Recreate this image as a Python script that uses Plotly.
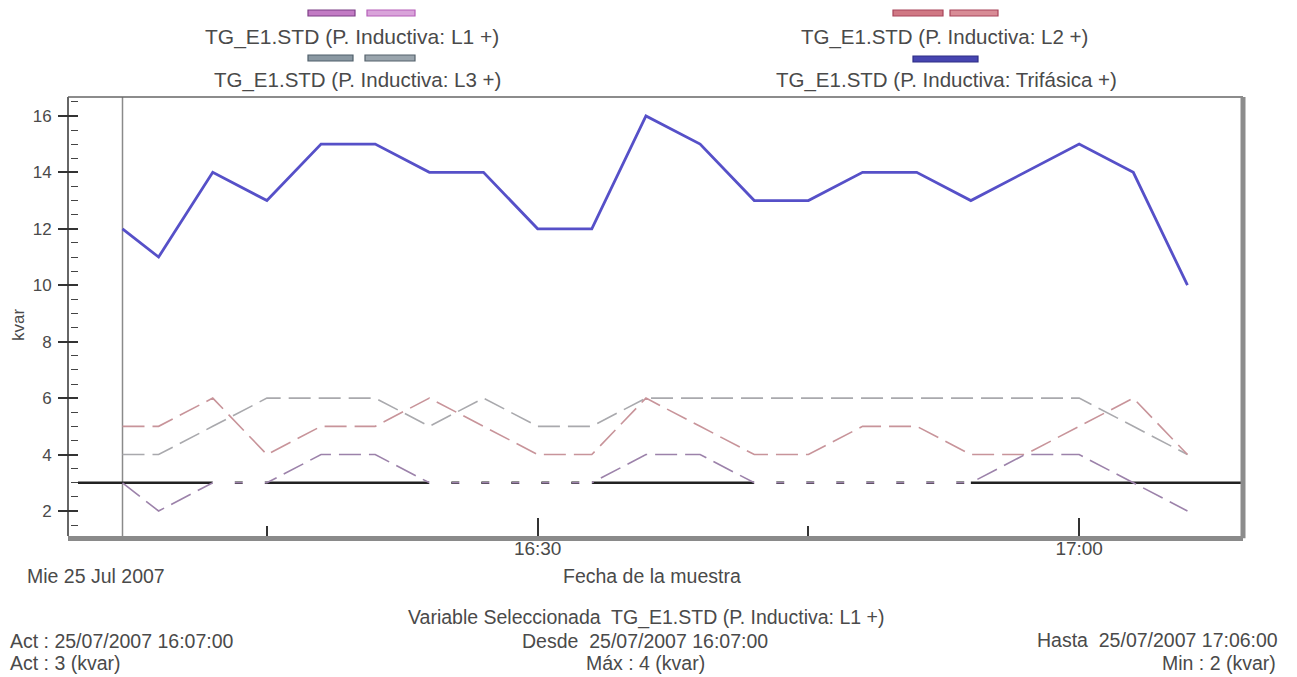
import pandas as pd
import plotly.graph_objects as go

# ---- data: reactive inductive power per phase and three-phase total (kvar) ----
DAY = "2007-07-25"
TIMES = ["16:07", "16:09", "16:12", "16:15", "16:18", "16:21", "16:24", "16:27",
         "16:30", "16:33", "16:36", "16:39", "16:42", "16:45", "16:48", "16:51",
         "16:54", "16:57", "17:00", "17:03", "17:06"]
L1 = [3, 2, 3, 3, 4, 4, 3, 3, 3, 3, 4, 4, 3, 3, 3, 3, 3, 4, 4, 3, 2]
L2 = [5, 5, 6, 4, 5, 5, 6, 5, 4, 4, 6, 5, 4, 4, 5, 5, 4, 4, 5, 6, 4]
L3 = [4, 4, 5, 6, 6, 6, 5, 6, 5, 5, 6, 6, 6, 6, 6, 6, 6, 6, 6, 5, 4]
TRIFASICA = [12, 11, 14, 13, 15, 15, 14, 14, 12, 12, 16, 15, 13, 13, 14, 14, 13, 14, 15, 14, 10]

NAMES = {
    "L1": "TG_E1.STD (P. Inductiva: L1 +)",
    "L2": "TG_E1.STD (P. Inductiva: L2 +)",
    "L3": "TG_E1.STD (P. Inductiva: L3 +)",
    "TRI": "TG_E1.STD (P. Inductiva: Trifásica +)",
}
Y_TICKS = [2, 4, 6, 8, 10, 12, 14, 16]

x = pd.to_datetime([f"{DAY} {t}" for t in TIMES])
t_first, t_last = x[0], x[-1]
act_value = L1[0]

# ---- geometry helpers (pixels -> paper coordinates) ----
W, H = 1297, 677
PL, PR, PT, PB = 68, 1243, 97, 536


def px(v):
    return (v - PL) / (PR - PL)


def py(v):
    return (PB - v) / (PB - PT)


FONT = "Liberation Sans, Arial, sans-serif"
TXT = "#4a4a4a"
DASH = "22px,8px"

fig = go.Figure()

fig.add_trace(go.Scatter(x=x, y=L3, mode="lines", name=NAMES["L3"],
                         line=dict(color="#a9a9ad", width=1.6, dash=DASH)))
fig.add_trace(go.Scatter(x=x, y=L2, mode="lines", name=NAMES["L2"],
                         line=dict(color="#c8949a", width=1.6, dash=DASH)))
fig.add_trace(go.Scatter(x=x, y=L1, mode="lines", name=NAMES["L1"],
                         line=dict(color="#9c82aa", width=1.6, dash=DASH)))
fig.add_trace(go.Scatter(x=x, y=TRIFASICA, mode="lines", name=NAMES["TRI"],
                         line=dict(color="#5650c8", width=2.8)))

# where L1 runs flat along the cursor value, its dashes knock out the cursor line
seg_x, seg_y = [], []
i = 0
n = len(L1)
while i < n - 1:
    if L1[i] == act_value and L1[i + 1] == act_value:
        j = i + 1
        while j + 1 < n and L1[j + 1] == act_value:
            j += 1
        seg_x += [x[i], x[j], None]
        seg_y += [L1[i], L1[j], None]
        i = j
    else:
        i += 1
fig.add_trace(go.Scatter(x=seg_x, y=seg_y, mode="lines", hoverinfo="skip",
                         line=dict(color="white", width=4, dash=DASH)))

shapes = [
    # cursor lines (time of the current sample, current value)
    dict(type="line", xref="x", yref="y domain", x0=t_first, x1=t_first, y0=0, y1=1,
         line=dict(color="#8a8a8a", width=1.5), layer="below"),
    dict(type="line", xref="x domain", yref="y", x0=px(78), x1=1, y0=act_value, y1=act_value,
         line=dict(color="#222222", width=2.6), layer="below"),
    # frame: left axis line, top edge, heavy right edge
    dict(type="line", xref="paper", yref="paper", x0=0, x1=0, y0=0, y1=1,
         line=dict(color="#333333", width=1.5)),
    dict(type="line", xref="paper", yref="paper", x0=0, x1=1, y0=1, y1=1,
         line=dict(color="#666666", width=1.5)),
    dict(type="line", xref="paper", yref="paper", x0=1, x1=1, y0=-0.005, y1=1,
         line=dict(color="#8c8c8c", width=5)),
]

# legend swatches + labels
legend_items = [
    ("L1", 352, 37, 21, [(308, 355, "#7d3f86", "#c27bc4"), (367, 415, "#b55fb8", "#d9a3da")], 13),
    ("L3", 357, 80, 20.5, [(308, 353, "#4f5f6a", "#8a98a2"), (365, 415, "#55626c", "#9aa5ad")], 58),
    ("L2", 945, 37, 20.5, [(893, 943, "#a8455a", "#d07884"), (950, 998, "#a8455a", "#d88c96")], 13),
    ("TRI", 946, 80, 20.5, [(913, 978, "#2f2e86", "#4645b0")], 59),
]
annotations = []
for key, cx, cy, fs, swatches, sy in legend_items:
    for x0, x1, edge, fill in swatches:
        shapes.append(dict(type="rect", xref="paper", yref="paper",
                           x0=px(x0), x1=px(x1), y0=py(sy + 3), y1=py(sy - 3),
                           fillcolor=fill, line=dict(color=edge, width=1.2)))
    annotations.append(dict(text=NAMES[key], xref="paper", yref="paper",
                            x=px(cx), y=py(cy), xanchor="center", yanchor="middle",
                            showarrow=False, font=dict(family=FONT, size=fs, color=TXT)))


def note(text, xp, yp, anchor="left", size=19.5):
    annotations.append(dict(text=text, xref="paper", yref="paper", x=px(xp), y=py(yp),
                            xanchor=anchor, yanchor="middle", showarrow=False,
                            font=dict(family=FONT, size=size, color=TXT)))


fmt = "%d/%m/%Y %H:%M:%S"
note(t_first.strftime("Mie %d Jul %Y"), 25, 576)
note("Fecha de la muestra", 652, 576, "center")
note(f"Variable Seleccionada  {NAMES['L1']}", 646, 617, "center")
note(f"Act : {t_first.strftime(fmt)}", 8, 641)
note(f"Desde  {t_first.strftime(fmt)}", 645, 641, "center")
note(f"Hasta  {t_last.strftime(fmt)}", 1280, 640, "right")
note(f"Act : {act_value} (kvar)", 8, 663)
note(f"Máx : {max(L1)} (kvar)", 645, 663, "center")
note(f"Min : {min(L1)} (kvar)", 1278, 663, "right")
annotations.append(dict(text="kvar", xref="paper", yref="paper", x=px(18), y=py(325),
                        xanchor="center", yanchor="middle", textangle=-90, showarrow=False,
                        font=dict(family=FONT, size=17, color=TXT)))

x_range = [t_first - pd.Timedelta(minutes=54.5 / 18.05),
           t_first + pd.Timedelta(minutes=(PR - 122.5) / 18.05)]
y_range = [1.114, 16.67]

fig.update_layout(
    width=W, height=H,
    margin=dict(l=PL, r=W - PR, t=PT, b=H - PB),
    paper_bgcolor="white", plot_bgcolor="white",
    showlegend=False,
    shapes=shapes, annotations=annotations,
    xaxis=dict(
        range=x_range, showgrid=False, zeroline=False,
        showline=True, linecolor="#8a8a8a", linewidth=5,
        tick0=f"{DAY} 16:00", dtick=30 * 60 * 1000, tickformat="%H:%M",
        ticks="inside", ticklen=18, tickwidth=1.5, tickcolor="#333333",
        minor=dict(dtick=15 * 60 * 1000, tick0=f"{DAY} 16:00", ticks="inside",
                   ticklen=10, tickwidth=1.5, tickcolor="#333333"),
        tickfont=dict(family=FONT, size=19, color=TXT),
        ticklabelstandoff=-9,
    ),
    # tick axis sits just right of the drawn axis line so that major ticks straddle it
    yaxis=dict(
        range=y_range, showgrid=False, zeroline=False, showline=False,
        anchor="free", position=px(78),
        tickvals=Y_TICKS, ticks="outside", ticklen=20, tickwidth=1.5, tickcolor="#333333",
        minor=dict(dtick=0.5, tick0=0, ticks="outside", ticklen=7, tickwidth=1.2,
                   tickcolor="#444444"),
        tickfont=dict(family=FONT, size=17, color=TXT),
        ticklabelstandoff=3,
    ),
)

fig.write_html("out.html")
